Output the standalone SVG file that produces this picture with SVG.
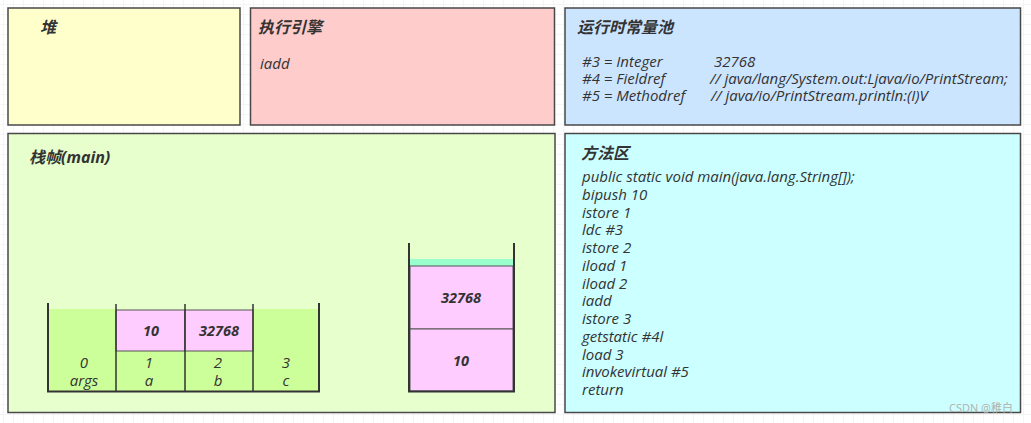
<svg xmlns="http://www.w3.org/2000/svg" width="1031" height="423" viewBox="0 0 1031 423">
  <defs>
    <pattern id="grid" x="3" y="4" width="10" height="10" patternUnits="userSpaceOnUse">
      <path d="M10 0 L0 0 L0 10" fill="none" stroke="#ececec" stroke-width="1"/>
    </pattern>
    <style>
      .box { stroke: #484848; stroke-width: 1.5; }
      .title { font-family: "Open Sans", "Noto Sans CJK SC", sans-serif; font-size: 16px; font-weight: bold; font-style: italic; fill: #333333; }
      .txt { font-family: "Open Sans", "Noto Sans CJK SC", sans-serif; font-size: 15px; font-style: italic; fill: #333333; }
      .cell { font-family: "Open Sans", sans-serif; font-size: 15px; font-style: italic; fill: #333333; text-anchor: middle; }
      .val { font-family: "Open Sans", sans-serif; font-size: 14.5px; font-weight: bold; font-style: italic; fill: #333333; text-anchor: middle; }
      .wall { stroke: #333333; stroke-width: 2; fill: none; }
      .div { stroke: #333333; stroke-width: 1.5; fill: none; }
      .green { fill: #ccff99; }
      .pink { fill: #ffccff; stroke: #555555; stroke-width: 1; }
      .wm { font-family: "Open Sans", "Noto Sans CJK SC", sans-serif; font-size: 11px; fill: #b0b0b0; }
    </style>
  </defs>
  <rect x="0" y="0" width="1031" height="423" fill="#ffffff"/>
  <rect x="0" y="0" width="1031" height="423" fill="url(#grid)"/>

  <g id="heap">
    <rect class="box" x="8" y="8" width="232" height="117" fill="#ffffcc"/>
    <text class="title" x="40" y="33">堆</text>
  </g>

  <g id="engine">
    <rect class="box" x="250.5" y="8" width="304" height="117" fill="#ffcccc"/>
    <text class="title" x="258" y="33">执行引擎</text>
    <text class="txt" x="260" y="69">iadd</text>
  </g>

  <g id="constant-pool">
    <rect class="box" x="565" y="8" width="455.5" height="117" fill="#cce5ff"/>
    <text class="title" x="577" y="33">运行时常量池</text>
    <text class="txt" x="582" y="67">#3 = Integer</text>
    <text class="txt" x="714" y="67">32768</text>
    <text class="txt" x="582" y="84">#4 = Fieldref</text>
    <text class="txt" x="710" y="84">// java/lang/System.out:Ljava/io/PrintStream;</text>
    <text class="txt" x="582" y="101">#5 = Methodref</text>
    <text class="txt" x="711" y="101">// java/io/PrintStream.println:(I)V</text>
  </g>

  <g id="stack-frame">
    <rect class="box" x="8" y="133.5" width="547" height="279" fill="#e6ffcc"/>
    <text class="title" x="29" y="163">栈帧(main)</text>
  </g>

  <g id="local-variables">
    <rect class="green" x="48" y="309" width="68" height="82"/>
    <rect class="green" x="116" y="351" width="69" height="40"/>
    <rect class="green" x="185" y="351" width="68" height="40"/>
    <rect class="green" x="253" y="309" width="66" height="82"/>
    <rect class="pink" x="116" y="310" width="69" height="41"/>
    <rect class="pink" x="185" y="310" width="68" height="41"/>
    <text class="val" x="151" y="336">10</text>
    <text class="val" x="219" y="336">32768</text>
    <text class="cell" x="84" y="368">0</text>
    <text class="cell" x="84" y="386">args</text>
    <text class="cell" x="149" y="368">1</text>
    <text class="cell" x="149" y="386">a</text>
    <text class="cell" x="218" y="368">2</text>
    <text class="cell" x="218" y="386">b</text>
    <text class="cell" x="286" y="368">3</text>
    <text class="cell" x="286" y="386">c</text>
    <path class="div" d="M116 304 V391 M185 304 V391 M253 304 V391"/>
    <path class="wall" d="M48 303 V391.5 H319 V303"/>
  </g>

  <g id="operand-stack">
    <rect x="410" y="259" width="103" height="7" fill="#99ffcc"/>
    <rect class="pink" x="410" y="266" width="103" height="63"/>
    <rect class="pink" x="410" y="329" width="103" height="62"/>
    <text class="val" x="461" y="303">32768</text>
    <text class="val" x="461" y="366">10</text>
    <path class="wall" d="M409 243 V391.5 H514 V243"/>
  </g>

  <g id="method-area">
    <rect class="box" x="565" y="133.5" width="455.5" height="279" fill="#ccffff"/>
    <text class="title" x="581" y="159">方法区</text>
    <text class="txt" x="582" y="182">public static void main(java.lang.String[]);</text>
    <text class="txt" x="582" y="199.75">bipush 10</text>
    <text class="txt" x="582" y="217.5">istore 1</text>
    <text class="txt" x="582" y="235.25">ldc #3</text>
    <text class="txt" x="582" y="253">istore 2</text>
    <text class="txt" x="582" y="270.75">iload 1</text>
    <text class="txt" x="582" y="288.5">iload 2</text>
    <text class="txt" x="582" y="306.25">iadd</text>
    <text class="txt" x="582" y="324">istore 3</text>
    <text class="txt" x="582" y="341.75">getstatic #4l</text>
    <text class="txt" x="582" y="359.5">load 3</text>
    <text class="txt" x="582" y="377.25">invokevirtual #5</text>
    <text class="txt" x="582" y="395">return</text>
  </g>

  <g id="connectors"></g>

  <text class="wm" x="949" y="412">CSDN @稚白</text>
</svg>
